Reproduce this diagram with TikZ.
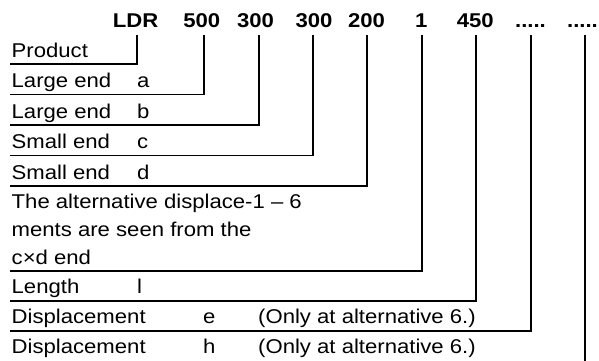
\documentclass[tikz,border=0pt]{standalone}
\usepackage{fontspec}
\setmainfont{Liberation Sans}[FakeStretch=1.11]
\begin{document}
\begin{tikzpicture}[x=1bp,y=-1bp,
  hdr/.style={font=\fontsize{20}{24}\selectfont\bfseries, inner sep=0pt, anchor=base},
  lbl/.style={font=\fontsize{20}{24}\selectfont, inner sep=0pt, anchor=base west},
  conn/.style={line width=1.8bp}]
\useasboundingbox (0,0) rectangle (599,360);
% header
\node[hdr] (h1) at (135.7,27.3) {LDR};
\node[hdr] (h2) at (201.7,27.3) {500};
\node[hdr] (h3) at (255.5,27.3) {300};
\node[hdr] (h4) at (314,27.3) {300};
\node[hdr] (h5) at (366.5,27.3) {200};
\node[hdr] (h6) at (421.3,27.3) {1};
\node[hdr] (h7) at (475.3,27.3) {450};
\node[hdr] (h8) at (530.5,27.3) {.....};
\node[hdr] (h9) at (582.5,27.3) {.....};
% line tops
\coordinate (t1) at (136.7,35);
\coordinate (t2) at (204,35);
\coordinate (t3) at (259,35);
\coordinate (t4) at (313,35);
\coordinate (t5) at (367.3,35);
\coordinate (t6) at (421.7,35);
\coordinate (t7) at (476,35);
\coordinate (t8) at (530.7,35);
\coordinate (t9) at (585,35);
% line left ends
\coordinate (e1) at (10,64);
\coordinate (e2) at (10,94.5);
\coordinate (e3) at (10,125);
\coordinate (e4) at (10,155.5);
\coordinate (e5) at (10,186);
\coordinate (e6) at (10,271);
\coordinate (e7) at (10,301);
\coordinate (e8) at (10,331);
\coordinate (e9) at (585,361);
% labels
\node[lbl] (p) at (11.5,57.3) {Product};
\node[lbl] (la) at (11.5,87.5) {Large end};
\node[lbl] (va) at (137,87.5) {a};
\node[lbl] (lb) at (11.5,118) {Large end};
\node[lbl] (vb) at (137,118) {b};
\node[lbl] (lc) at (11.5,148.5) {Small end};
\node[lbl] (vc) at (137,148.5) {c};
\node[lbl] (ld) at (11.5,179) {Small end};
\node[lbl] (vd) at (137,179) {d};
\node[lbl] (alt1) at (11.5,208) {The alternative displace-1 – 6};
\node[lbl] (alt2) at (11.5,236) {ments are seen from the};
\node[lbl] (alt3) at (11.5,264) {c×d end};
\node[lbl] (len) at (11.5,293.5) {Length};
\node[lbl] (vl) at (137,293.5) {l};
\node[lbl] (de) at (11.5,323.5) {Displacement};
\node[lbl] (ve) at (203,323.5) {e};
\node[lbl] (oe) at (258,323.5) {(Only at alternative 6.)};
\node[lbl] (dh) at (11.5,353.5) {Displacement};
\node[lbl] (vh) at (203,353.5) {h};
\node[lbl] (oh) at (258,353.5) {(Only at alternative 6.)};
% connectors
\draw[conn] (t1) |- (e1);
\draw[conn] (t2) |- (e2);
\draw[conn] (t3) |- (e3);
\draw[conn] (t4) |- (e4);
\draw[conn] (t5) |- (e5);
\draw[conn] (t6) |- (e6);
\draw[conn] (t7) |- (e7);
\draw[conn] (t8) |- (e8);
\draw[conn] (t9) -- (e9);
\end{tikzpicture}
\end{document}
